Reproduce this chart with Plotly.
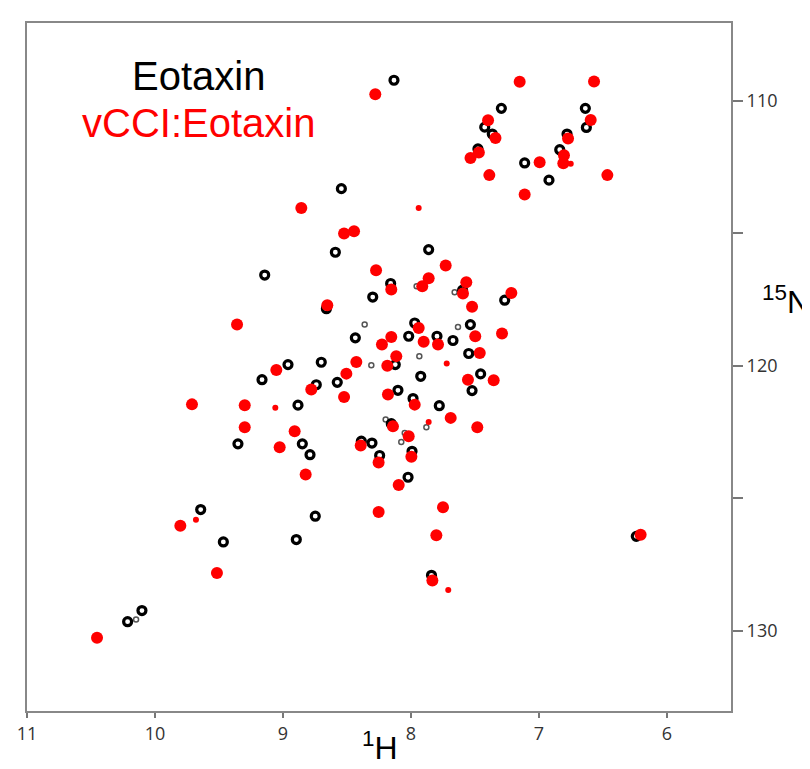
import plotly.graph_objects as go

# --- Eotaxin (black) peaks: 1H ppm, 15N ppm
eot_H = [8.133, 7.424, 7.365, 7.477, 8.544, 7.294, 6.638, 6.630, 6.781, 6.838,
         7.112, 6.922, 8.591, 7.862, 9.143, 8.159, 7.597, 8.299, 8.661, 7.971,
         7.536, 8.435, 8.018, 7.797, 7.672, 7.549, 8.123, 8.701, 8.961, 7.456,
         7.268, 9.164, 9.352, 9.643, 9.466, 7.924, 7.523, 8.740, 8.576, 8.102,
         7.984, 7.779, 8.883, 8.154, 8.849, 8.789, 8.388, 8.305, 8.245, 7.992,
         8.023, 8.748, 8.896, 6.240, 10.214, 10.102, 7.840]
eot_N = [109.22, 110.99, 111.25, 111.81, 113.31, 110.28, 110.28, 111.00, 111.25, 111.84,
         112.34, 112.99, 115.71, 115.61, 116.57, 116.89, 117.14, 117.40, 117.84, 118.38,
         118.44, 118.94, 118.88, 118.88, 119.04, 119.53, 119.95, 119.86, 119.95, 120.30,
         117.52, 120.52, 122.94, 125.42, 126.64, 120.39, 120.93, 120.71, 120.62, 120.92,
         121.23, 121.50, 121.48, 122.18, 122.94, 123.35, 122.84, 122.91, 123.38, 123.22,
         124.20, 125.67, 126.55, 126.43, 129.65, 129.23, 127.90]
# weak Eotaxin peaks
eot_weak_H = [7.956, 7.935, 8.198, 8.049, 8.076, 8.362, 7.633, 8.310, 7.659, 10.148, 7.880]
eot_weak_N = [116.99, 119.63, 122.02, 122.53, 122.87, 118.44, 118.53, 119.97, 117.22, 129.57, 122.31]

# --- vCCI:Eotaxin (red) peaks
vcci_H = [8.279, 7.398, 7.340, 7.535, 7.470, 7.388, 7.151, 6.570, 6.596, 6.773,
          6.805, 6.810, 6.995, 6.466, 7.112, 8.857, 8.523, 8.445, 8.273, 7.729,
          8.154, 7.912, 7.862, 7.568, 7.594, 7.523, 8.654, 7.940, 8.227, 8.154,
          7.901, 7.789, 7.498, 7.463, 8.427, 8.115, 8.185, 9.052, 7.289, 7.216,
          9.359, 9.711, 9.299, 9.299, 9.802, 8.505, 7.555, 7.354, 8.779, 8.523,
          8.180, 7.971, 7.690, 7.482, 8.141, 8.909, 8.018, 9.026, 8.393, 8.253,
          7.997, 8.823, 8.096, 7.750, 8.253, 7.802, 6.206, 9.516, 10.453, 7.833]
vcci_N = [109.75, 110.73, 111.40, 112.15, 111.95, 112.80, 109.28, 109.27, 110.72, 111.42,
          112.05, 112.35, 112.31, 112.80, 113.53, 114.04, 115.00, 114.92, 116.39, 116.21,
          117.12, 116.99, 116.69, 116.84, 117.27, 117.77, 117.71, 118.57, 119.19, 118.91,
          119.09, 119.19, 118.88, 119.51, 119.85, 119.63, 119.99, 120.15, 118.78, 117.25,
          118.44, 121.45, 121.48, 122.31, 126.03, 120.29, 120.52, 120.54, 120.89, 121.17,
          121.08, 121.46, 121.96, 122.31, 122.28, 122.46, 122.65, 123.07, 123.00, 123.64,
          123.43, 124.10, 124.49, 125.33, 125.51, 126.39, 126.37, 127.81, 130.26, 128.10]
vcci_weak_H = [7.940, 7.721, 9.060, 9.680, 7.709, 7.862, 6.752]
vcci_weak_N = [114.04, 119.91, 121.58, 125.80, 128.45, 122.12, 112.37]

x_ticks = [11, 10, 9, 8, 7, 6]
y_ticks = [110, 115, 120, 125, 130]
y_ticktext = ["110", "", "120", "", "130"]

fig = go.Figure()
fig.add_trace(go.Scatter(x=eot_weak_H, y=eot_weak_N, mode="markers",
                         marker=dict(symbol="circle-open", size=5, color="#555555",
                                     line=dict(width=1.5, color="#555555")),
                         showlegend=False, hoverinfo="skip"))
fig.add_trace(go.Scatter(x=eot_H, y=eot_N, mode="markers", name="Eotaxin",
                         marker=dict(symbol="circle-open", size=8, color="black",
                                     line=dict(width=3.2, color="black")),
                         showlegend=False))
fig.add_trace(go.Scatter(x=vcci_weak_H, y=vcci_weak_N, mode="markers",
                         marker=dict(symbol="circle", size=6, color="#ff0000"),
                         showlegend=False, hoverinfo="skip"))
fig.add_trace(go.Scatter(x=vcci_H, y=vcci_N, mode="markers", name="vCCI:Eotaxin",
                         marker=dict(symbol="circle", size=12, color="#ff0000"),
                         showlegend=False))

L, R, T, B = 19, 87, 15, 66
W, H = 810, 769
pw = W - L - R
ph = H - T - B


def px2paper(px, py):
    return (px - L) / pw, 1 - (py - T) / ph


texts = [
    ("Eotaxin", 190, 68, 40, "black"),
    ("vCCI:Eotaxin", 190, 115, 40, "#ff0000"),
    ("<sup>1</sup>H", 372, 738, 32, "black"),
    ("<sup>15</sup>N", 778, 292, 32, "black"),
]
annotations = []
for t, px, py, fs, col in texts:
    ax, ay = px2paper(px, py)
    annotations.append(dict(text=t, x=ax, y=ay, xref="paper", yref="paper",
                            showarrow=False, xanchor="center", yanchor="middle",
                            font=dict(family="Liberation Sans, Arial", size=fs, color=col)))

fig.update_layout(
    width=W, height=H,
    margin=dict(l=L, r=R, t=T, b=B, autoexpand=False),
    paper_bgcolor="white", plot_bgcolor="white",
    font=dict(family="Open Sans, Noto Sans, sans-serif", color="#333333", size=18),
    xaxis=dict(range=[11, 5.5], tickvals=x_ticks, ticks="outside", ticklen=5,
               tickwidth=1.5, tickcolor="#777777", showline=True, linecolor="#888888",
               linewidth=2, mirror=True, showgrid=False, zeroline=False, automargin=False,
               tickfont=dict(size=18, color="#333333")),
    yaxis=dict(range=[133.02, 107.06], side="right", tickvals=y_ticks, ticktext=y_ticktext,
               ticks="outside", ticklen=10, tickwidth=1.5, tickcolor="#777777",
               showline=True, linecolor="#888888", linewidth=2, mirror=True,
               showgrid=False, zeroline=False, automargin=False,
               tickfont=dict(size=18, color="#333333")),
    annotations=annotations,
)

fig.write_html("out.html")
